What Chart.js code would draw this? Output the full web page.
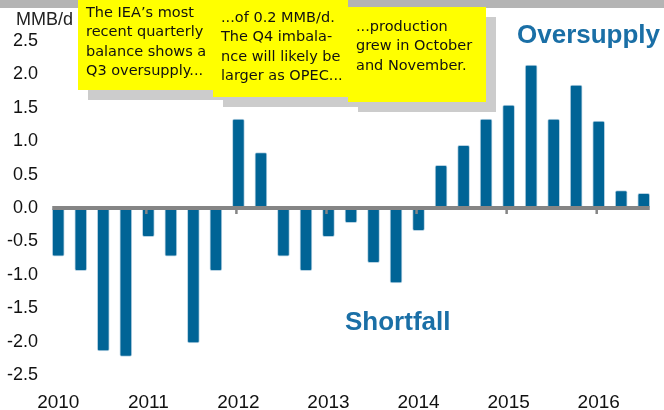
<!DOCTYPE html>
<html>
<head>
<meta charset="utf-8">
<script src="https://cdn.jsdelivr.net/npm/chart.js@4"></script>
<style>
    body { margin: 0; background: #fff; }
    #wrap { position: relative; width: 664px; height: 410px; overflow: hidden; }
    #topband { position: absolute; left: 0; top: 0; width: 664px; height: 8px; background: #b4b4b4; }
    .note {
        position: absolute;
        background: #ffff00;
        box-shadow: 10px 10px 0 #cccccc;
        font-family: "DejaVu Sans", sans-serif;
        font-size: 14.5px;
        line-height: 19.3px;
        color: #111;
        white-space: nowrap;
        box-sizing: border-box;
        overflow: hidden;
    }
    .tag {
        position: absolute;
        font-family: "Liberation Sans", Arial, sans-serif;
        font-weight: bold;
        font-size: 26px;
        color: #1a6fa6;
        white-space: nowrap;
    }
    #mmb {
        position: absolute; left: 16px; top: 9px;
        font-family: "Liberation Sans", Arial, sans-serif;
        font-size: 18px; color: #222;
    }
</style>
</head>
<body>
<div id="wrap">
    <canvas id="balanceChart" width="664" height="410"></canvas>
    <div id="topband"></div>
    <div id="mmb">MMB/d</div>
    <div class="note" style="left:78px; top:0; width:135px; height:90px; padding:3px 0 0 8px;">The IEA’s most<br>recent quarterly<br>balance shows a<br>Q3 oversupply...</div>
    <div class="note" style="left:213px; top:0; width:135px; height:97px; padding:8px 0 0 8px;">...of 0.2 MMB/d.<br>The Q4 imbala-<br>nce will likely be<br>larger as OPEC...</div>
    <div class="note" style="left:348px; top:7px; width:138px; height:95px; padding:10px 0 0 8px;">...production<br>grew in October<br>and November.</div>
    <div class="tag" style="left:517px; top:19px;">Oversupply</div>
    <div class="tag" style="left:345px; top:306px;">Shortfall</div>
</div>
<script>
// Données trimestrielles (MMB/d)
const quarters = [
    '2010 Q1', '2010 Q2', '2010 Q3', '2010 Q4',
    '2011 Q1', '2011 Q2', '2011 Q3', '2011 Q4',
    '2012 Q1', '2012 Q2', '2012 Q3', '2012 Q4',
    '2013 Q1', '2013 Q2', '2013 Q3', '2013 Q4',
    '2014 Q1', '2014 Q2', '2014 Q3', '2014 Q4',
    '2015 Q1', '2015 Q2', '2015 Q3', '2015 Q4',
    '2016 Q1', '2016 Q2', '2016 Q3'
];
const balance = [
    -0.72, -0.94, -2.14, -2.22,
    -0.43, -0.72, -2.02, -0.94,
    1.33, 0.83, -0.72, -0.94,
    -0.43, -0.22, -0.82, -1.12,
    -0.34, 0.64, 0.94, 1.33,
    1.54, 2.14, 1.33, 1.84,
    1.30, 0.26, 0.22
];
const yTicks = [2.5, 2.0, 1.5, 1.0, 0.5, 0.0, -0.5, -1.0, -1.5, -2.0, -2.5];

// Ligne du zéro + petites graduations des années
const zeroLine = {
    id: 'zeroLine',
    afterDatasetsDraw(chart) {
        const ctx = chart.ctx;
        const x = chart.scales.x;
        const y0 = chart.scales.y.getPixelForValue(0);
        const left = x.getPixelForValue(0) - 6;
        const right = x.getPixelForValue(quarters.length - 1) + 6;
        ctx.save();
        ctx.strokeStyle = '#858585';
        ctx.lineWidth = 4;
        ctx.beginPath();
        ctx.moveTo(left, y0);
        ctx.lineTo(right, y0);
        ctx.stroke();
        ctx.lineWidth = 2.5;
        quarters.forEach((q, i) => {
            if (!q.endsWith('Q1') || i === 0) return;
            const px = x.getPixelForValue(i) - 2;
            ctx.beginPath();
            ctx.moveTo(px, y0);
            ctx.lineTo(px, y0 + 6);
            ctx.stroke();
        });
        ctx.restore();
    }
};

new Chart(document.getElementById('balanceChart'), {
    type: 'bar',
    data: {
        labels: quarters,
        datasets: [{
            data: balance,
            backgroundColor: '#006496',
            borderColor: '#b9d3e3',
            borderWidth: 1,
            borderRadius: 2,
            borderSkipped: false,
            barThickness: 12
        }]
    },
    options: {
        responsive: false,
        animation: false,
        layout: { padding: { top: 41, right: 9, left: 0, bottom: 0 } },
        plugins: {
            legend: { display: false },
            tooltip: { enabled: false }
        },
        scales: {
            x: {
                offset: true,
                grid: { display: false, drawTicks: false },
                border: { display: false },
                afterFit: scale => { scale.height = 35; },
                ticks: {
                    autoSkip: false,
                    maxRotation: 0,
                    padding: 16,
                    color: '#111',
                    font: { family: 'Liberation Sans', size: 19 },
                    callback: (v, i) => quarters[i].endsWith('Q1') ? quarters[i].slice(0, 4) : ''
                }
            },
            y: {
                min: -2.5,
                max: 2.5,
                grid: { display: false, drawTicks: false },
                border: { display: false },
                afterFit: scale => { scale.width = 47; },
                afterBuildTicks: scale => { scale.ticks = yTicks.map(v => ({ value: v })); },
                ticks: {
                    padding: 9,
                    color: '#111',
                    font: { family: 'Liberation Sans', size: 18 },
                    callback: v => v.toFixed(1)
                }
            }
        }
    },
    plugins: [zeroLine]
});
</script>
</body>
</html>
